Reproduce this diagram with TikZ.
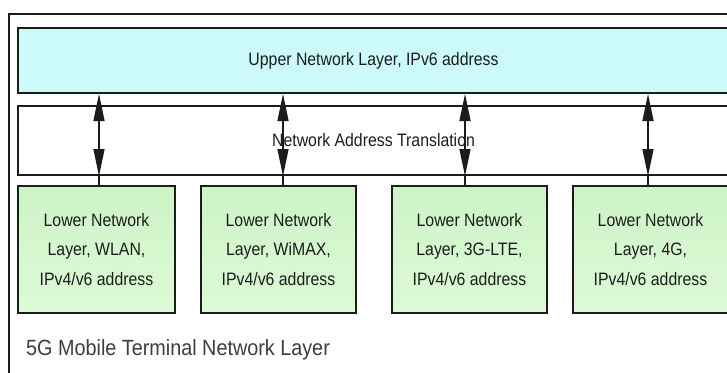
\documentclass[tikz,border=0pt]{standalone}
\usepackage{fontspec}
\setmainfont{Liberation Sans}
\newfontfamily\narrowfont[FakeStretch=0.88]{Liberation Sans}
\newfontfamily\captionfont[FakeStretch=0.9]{Liberation Sans}
\usetikzlibrary{arrows.meta}
\definecolor{ink}{HTML}{1C1C1C}
\definecolor{upperfill}{HTML}{CCFAFA}
\definecolor{lowertop}{HTML}{CDF3C6}
\definecolor{lowerbot}{HTML}{DDFAD6}
\begin{document}
\begin{tikzpicture}[x=1pt,y=-1pt,
  frame/.style={draw=ink, line width=1.8pt},
  band/.style={draw=ink, line width=2pt, minimum width=711pt,
    inner sep=0pt, text=ink, font=\narrowfont\fontsize{18}{21}\selectfont},
  lowbox/.style={draw=ink, line width=2pt, minimum height=127pt,
    inner sep=0pt, align=center, text=ink,
    top color=lowertop, bottom color=lowerbot,
    font=\narrowfont\fontsize{18}{29.5}\selectfont},
  link/.style={draw=ink, line width=1.2pt},
  dbl/.style={link, {Triangle[length=27pt,width=11pt]}-{Triangle[length=27pt,width=11pt]}}]
\useasboundingbox (0,0) rectangle (727,372);
\clip (0,0) rectangle (727,372);
\fill[white] (0,0) rectangle (727,372);

% outer terminal frame
\draw[frame] (9,14) rectangle (742,395);

% layer bands
\node[band, fill=upperfill, minimum height=65pt] (up) at (373.5,60.5)
  {Upper Network Layer, IPv6 address};
\node[band, fill=white, minimum height=69pt] (nat) at (373.5,140.5)
  {Network Address Translation};

% lower network layers
\node[lowbox, minimum width=157pt] (low1) at (96.5,249.5)
  {Lower Network\\Layer, WLAN,\\IPv4/v6 address};
\node[lowbox, minimum width=155pt] (low2) at (278.5,249.5)
  {Lower Network\\Layer, WiMAX,\\IPv4/v6 address};
\node[lowbox, minimum width=155pt] (low3) at (469.5,249.5)
  {Lower Network\\Layer, 3G-LTE,\\IPv4/v6 address};
\node[lowbox, minimum width=155pt] (low4) at (650.5,249.5)
  {Lower Network\\Layer, 4G,\\IPv4/v6 address};

% connections through the translation layer
\coordinate (a1) at ([xshift=2.5pt]low1.north);
\coordinate (a2) at ([xshift=4.5pt]low2.north);
\coordinate (a3) at ([xshift=-4.5pt]low3.north);
\coordinate (a4) at ([xshift=-2.5pt]low4.north);
\foreach \c in {a1,a2,a3,a4}{
  \draw[dbl] (\c |- up.south) -- (\c |- nat.south);
  \draw[link] (\c |- nat.south) -- (\c);
}

% frame caption
\node[anchor=base west, inner sep=0pt, text=ink!85,
  font=\captionfont\fontsize{22}{26}\selectfont] (cap) at (26,355)
  {5G Mobile Terminal Network Layer};
\end{tikzpicture}
\end{document}
